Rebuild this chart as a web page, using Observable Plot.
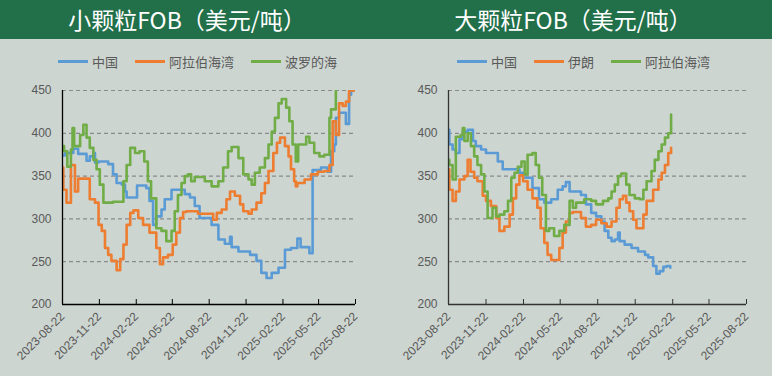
<!DOCTYPE html>
<html><head><meta charset="utf-8">
<script src="https://cdn.jsdelivr.net/npm/d3@7"></script>
<script src="https://cdn.jsdelivr.net/npm/@observablehq/plot@0.6"></script>
<style>
body{margin:0;}
#root{position:relative;width:772px;height:376px;background:#cdd5d0;overflow:hidden;font-family:"Noto Sans CJK SC","Noto Sans",sans-serif;}
.header{position:absolute;left:0;top:0;width:772px;height:39px;background:#21704a;}
.title{position:absolute;top:0;height:39px;line-height:39px;color:#fff;font-size:23px;text-align:center;width:374px;}
.legend{position:absolute;top:52px;height:18px;display:flex;align-items:center;font-size:13px;color:#595959;}
.sw{display:inline-block;width:30px;height:3px;margin-right:4px;}
.item{display:flex;align-items:center;margin-right:17px;}
.plot{position:absolute;top:80px;}
</style></head>
<body><div id="root">
<div class="header"></div>
<div class="title" id="t1" style="left:0"></div>
<div class="title" id="t2" style="left:386px"></div>
<div class="legend" id="lg1" style="left:58px"></div>
<div class="legend" id="lg2" style="left:457px"></div>
<div class="plot" id="p1" style="left:0"></div>
<div class="plot" id="p2" style="left:386px"></div>
</div>
<script>
const titles = ["小颗粒FOB（美元/吨）", "大颗粒FOB（美元/吨）"];
const smallNames = ["中国", "阿拉伯海湾", "波罗的海"];
const largeNames = ["中国", "伊朗", "阿拉伯海湾"];
const colors = ["#5b9bd5", "#ed7d31", "#70ad47"];
const xTickLabels = ["2023-08-22","2023-11-22","2024-02-22","2024-05-22","2024-08-22","2024-11-22","2025-02-22","2025-05-22","2025-08-22"];
const yTicks = [200, 250, 300, 350, 400, 450];

// 小颗粒
const smallChina = [["2023-08-22",374],["2023-08-28",377],["2023-09-18",382],["2023-09-30",376],["2023-10-21",368],["2023-10-29",373],["2023-11-07",377],["2023-11-11",366],["2023-11-20",367],["2023-12-14",364],["2023-12-26",352],["2024-01-04",342],["2024-01-17",340],["2024-01-25",332],["2024-01-29",325],["2024-02-24",339],["2024-03-18",336],["2024-03-26",321],["2024-04-04",293],["2024-04-12",303],["2024-04-25",311],["2024-05-03",323],["2024-05-20",334],["2024-06-22",329],["2024-07-05",325],["2024-07-17",315],["2024-07-29",301],["2024-08-28",293],["2024-09-14",276],["2024-09-30",271],["2024-10-13",279],["2024-10-17",267],["2024-11-03",262],["2024-12-02",258],["2024-12-18",251],["2024-12-30",237],["2025-01-12",231],["2025-01-25",237],["2025-02-11",243],["2025-02-27",264],["2025-03-14",266],["2025-03-30",277],["2025-04-07",267],["2025-04-29",260],["2025-05-07",357],["2025-05-28",360],["2025-06-13",355],["2025-06-22",379],["2025-06-30",387],["2025-07-04",418],["2025-07-12",424],["2025-07-29",411],["2025-08-06",445],["2025-08-11",450],["2025-08-21",450]];
const smallGulf = [["2023-08-22",360],["2023-08-24",334],["2023-09-01",319],["2023-09-12",363],["2023-09-22",332],["2023-09-30",347],["2023-10-29",323],["2023-11-11",319],["2023-11-20",293],["2023-11-28",286],["2023-12-06",266],["2023-12-14",258],["2023-12-22",251],["2024-01-04",240],["2024-01-13",253],["2024-01-21",270],["2024-01-29",293],["2024-02-07",307],["2024-02-15",310],["2024-02-27",301],["2024-03-10",293],["2024-03-26",284],["2024-04-12",266],["2024-04-21",247],["2024-04-29",255],["2024-05-11",258],["2024-05-23",270],["2024-06-01",284],["2024-06-10",301],["2024-06-18",308],["2024-06-26",309],["2024-07-25",306],["2024-09-01",299],["2024-09-10",307],["2024-09-22",311],["2024-10-04",323],["2024-10-13",332],["2024-10-25",327],["2024-11-07",317],["2024-11-15",309],["2024-11-28",306],["2024-12-06",311],["2024-12-18",319],["2024-12-30",330],["2025-01-08",342],["2025-01-17",356],["2025-01-29",377],["2025-02-07",389],["2025-02-15",395],["2025-02-27",385],["2025-03-08",373],["2025-03-14",358],["2025-03-22",344],["2025-03-26",338],["2025-03-30",342],["2025-04-17",346],["2025-05-03",352],["2025-05-20",355],["2025-06-05",356],["2025-06-18",363],["2025-06-26",414],["2025-07-04",398],["2025-07-12",435],["2025-07-21",432],["2025-07-29",437],["2025-08-06",450],["2025-08-21",450]];
const smallBaltic = [["2023-08-22",385],["2023-08-26",379],["2023-09-03",361],["2023-09-12",381],["2023-09-16",406],["2023-09-20",385],["2023-10-05",398],["2023-10-13",410],["2023-10-21",395],["2023-10-29",383],["2023-11-07",369],["2023-11-15",358],["2023-11-23",340],["2023-12-02",319],["2023-12-26",320],["2024-01-21",344],["2024-01-29",363],["2024-02-07",383],["2024-02-19",377],["2024-03-01",379],["2024-03-13",367],["2024-03-22",344],["2024-03-30",324],["2024-04-12",289],["2024-04-25",286],["2024-05-07",274],["2024-05-20",286],["2024-05-28",309],["2024-06-05",328],["2024-06-14",342],["2024-06-22",350],["2024-06-30",352],["2024-07-08",344],["2024-07-17",349],["2024-08-11",344],["2024-08-28",338],["2024-09-14",344],["2024-09-26",360],["2024-10-08",379],["2024-10-17",384],["2024-11-03",371],["2024-11-15",352],["2024-11-28",346],["2024-12-06",340],["2024-12-14",354],["2024-12-26",360],["2025-01-08",371],["2025-01-17",387],["2025-01-25",402],["2025-02-02",418],["2025-02-11",435],["2025-02-19",440],["2025-03-02",430],["2025-03-10",414],["2025-03-18",387],["2025-03-26",367],["2025-04-01",387],["2025-04-21",396],["2025-04-29",389],["2025-05-11",377],["2025-05-24",373],["2025-06-05",375],["2025-06-18",418],["2025-06-22",428],["2025-07-04",450]];

// 大颗粒
const largeChina = [["2023-08-22",404],["2023-08-24",387],["2023-09-01",381],["2023-09-09",377],["2023-09-18",393],["2023-09-26",402],["2023-10-08",404],["2023-10-21",391],["2023-10-28",385],["2023-11-10",381],["2023-11-22",377],["2023-12-21",367],["2024-01-02",358],["2024-02-12",354],["2024-02-21",348],["2024-03-15",336],["2024-03-31",323],["2024-04-13",319],["2024-04-30",323],["2024-05-16",334],["2024-05-28",338],["2024-06-05",343],["2024-06-14",332],["2024-07-12",328],["2024-07-24",317],["2024-08-06",307],["2024-08-18",303],["2024-08-31",297],["2024-09-08",286],["2024-09-17",278],["2024-09-25",274],["2024-10-03",276],["2024-10-11",284],["2024-10-15",274],["2024-10-27",270],["2024-11-13",266],["2024-11-29",262],["2024-12-16",258],["2024-12-24",255],["2025-01-05",245],["2025-01-13",236],["2025-01-21",239],["2025-01-30",244],["2025-02-07",245],["2025-02-16",243]];
const largeIran = [["2023-08-22",358],["2023-08-24",334],["2023-09-01",321],["2023-09-09",332],["2023-09-18",346],["2023-09-30",350],["2023-10-08",369],["2023-10-15",355],["2023-10-24",348],["2023-11-01",344],["2023-11-14",327],["2023-11-22",321],["2023-12-04",315],["2023-12-17",301],["2023-12-25",286],["2024-01-06",291],["2024-01-19",305],["2024-01-27",324],["2024-02-04",340],["2024-02-12",351],["2024-02-21",344],["2024-03-03",334],["2024-03-15",324],["2024-03-27",313],["2024-04-04",289],["2024-04-13",272],["2024-04-21",258],["2024-04-30",252],["2024-05-20",266],["2024-05-28",284],["2024-06-05",297],["2024-06-14",307],["2024-06-22",308],["2024-07-12",301],["2024-07-24",291],["2024-08-06",293],["2024-08-18",299],["2024-08-31",295],["2024-09-13",291],["2024-09-25",297],["2024-10-07",313],["2024-10-15",323],["2024-10-23",327],["2024-10-31",319],["2024-11-08",309],["2024-11-17",299],["2024-11-25",289],["2024-12-12",305],["2024-12-20",321],["2025-01-05",334],["2025-01-18",346],["2025-01-26",354],["2025-02-03",363],["2025-02-11",377],["2025-02-18",383]];
const largeGulf = [["2023-08-22",369],["2023-08-24",363],["2023-09-01",346],["2023-09-09",396],["2023-09-21",398],["2023-09-26",406],["2023-09-30",391],["2023-10-08",400],["2023-10-16",385],["2023-10-24",373],["2023-11-01",363],["2023-11-10",352],["2023-11-18",332],["2023-11-26",301],["2023-12-08",313],["2023-12-17",303],["2023-12-25",305],["2024-01-06",309],["2024-01-15",321],["2024-01-23",348],["2024-01-31",354],["2024-02-08",361],["2024-02-17",367],["2024-02-25",352],["2024-03-03",375],["2024-03-15",377],["2024-03-23",363],["2024-03-31",348],["2024-04-08",328],["2024-04-17",286],["2024-04-25",289],["2024-05-07",280],["2024-05-20",286],["2024-06-01",293],["2024-06-14",321],["2024-06-22",313],["2024-06-30",319],["2024-07-20",323],["2024-08-06",321],["2024-08-18",317],["2024-09-04",321],["2024-09-17",324],["2024-09-25",332],["2024-10-03",340],["2024-10-11",350],["2024-10-19",353],["2024-10-31",340],["2024-11-08",328],["2024-11-21",324],["2024-12-03",323],["2024-12-12",334],["2024-12-20",344],["2025-01-01",356],["2025-01-09",369],["2025-01-18",379],["2025-01-26",387],["2025-02-03",395],["2025-02-11",400],["2025-02-16",400],["2025-02-18",422]];

const smallSeries = [smallChina, smallGulf, smallBaltic];
const largeSeries = [largeChina, largeIran, largeGulf];

const parse = d3.utcParse("%Y-%m-%d");
const xTicks = xTickLabels.map(parse);

document.getElementById("t1").textContent = titles[0];
document.getElementById("t2").textContent = titles[1];

function legend(id, names) {
  const el = document.getElementById(id);
  names.forEach((n, i) => {
    const it = document.createElement("div");
    it.className = "item";
    it.innerHTML = `<span class="sw" style="background:${colors[i]}"></span><span>${n}</span>`;
    el.appendChild(it);
  });
}
legend("lg1", smallNames);
legend("lg2", largeNames);

function panel(series, names, marginRight, axisColor) {
  const marks = series.map((s, i) => Plot.line(s.map(([d, v]) => ({date: parse(d), value: v, name: names[i]})), {
    x: "date", y: "value", stroke: colors[i], strokeWidth: 2.6, curve: "step-after", clip: true
  }));
  return Plot.plot({
    width: 386, height: 296,
    marginTop: 10, marginBottom: 72, marginLeft: 62, marginRight,
    style: {background: "transparent", fontFamily: "'Liberation Sans', Arial, sans-serif", fontSize: "12px", color: "#595959", overflow: "visible"},
    x: {type: "utc", domain: [xTicks[0], xTicks[xTicks.length - 1]]},
    y: {domain: [200, 450]},
    marks: [
      Plot.gridY(yTicks.slice(1), {stroke: "#8a8a8a", strokeOpacity: 1, strokeWidth: 1.2, strokeDasharray: "4,3"}),
      Plot.axisY(yTicks, {tickSize: 0, tickPadding: 11, label: null, fill: "#595959"}),
      Plot.axisX(xTicks, {tickSize: -5, tickFormat: () => "", label: null, stroke: axisColor}),
      Plot.axisX(xTicks, {tickSize: 0, tickPadding: 10, tickRotate: -45, tickFormat: d3.utcFormat("%Y-%m-%d"), label: null, fill: "#595959"}),
      ...marks,
      Plot.ruleY([200], {stroke: axisColor, strokeWidth: 1.3}),
      Plot.ruleX([xTicks[0]], {stroke: axisColor, strokeWidth: 1.3})
    ]
  });
}
document.getElementById("p1").appendChild(panel(smallSeries, smallNames, 31, "#000"));
document.getElementById("p2").appendChild(panel(largeSeries, largeNames, 26, "#333"));
</script>
</body></html>
